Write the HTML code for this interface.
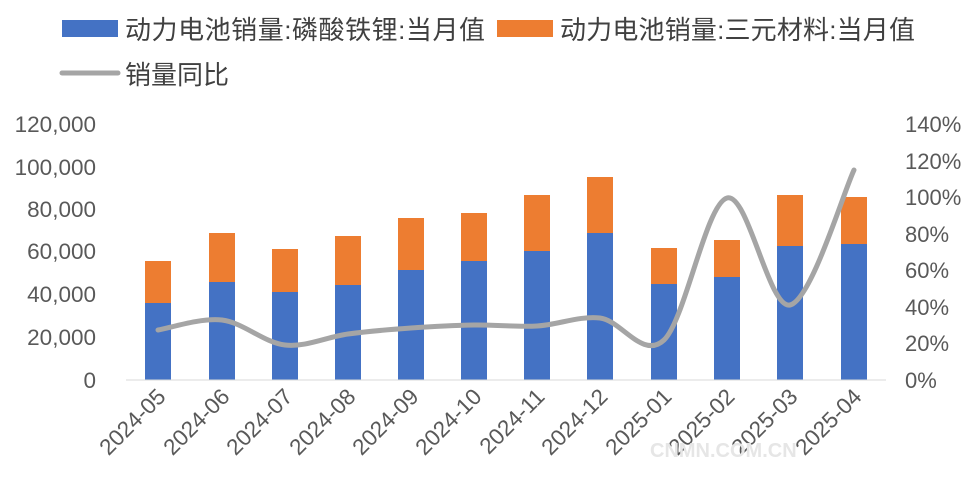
<!DOCTYPE html>
<html><head><meta charset="utf-8"><style>
body{margin:0;background:#fff;}
svg{display:block;font-family:"Liberation Sans","Noto Sans CJK SC",sans-serif;}
</style></head><body>
<svg id="c" width="979" height="500" viewBox="0 0 979 500">
<rect width="979" height="500" fill="#fff"/>
<rect x="62" y="20" width="56" height="17" fill="#4472c4"/>
<text x="125" y="39" font-size="26" fill="#404040" textLength="360">动力电池销量:磷酸铁锂:当月值</text>
<rect x="497" y="20" width="56" height="17" fill="#ed7d31"/>
<text x="560" y="39" font-size="26" fill="#404040" textLength="355">动力电池销量:三元材料:当月值</text>
<line x1="62" y1="73" x2="118" y2="73" stroke="#a5a5a5" stroke-width="5" stroke-linecap="round"/>
<text x="125" y="84" font-size="26" fill="#404040">销量同比</text>
<g font-size="22.5" fill="#595959" text-anchor="end">
<text x="96" y="132">120,000</text><text x="96" y="175">100,000</text><text x="96" y="217">80,000</text>
<text x="96" y="259">60,000</text><text x="96" y="302">40,000</text><text x="96" y="345">20,000</text><text x="96" y="388">0</text>
</g>
<g font-size="22" fill="#595959" text-anchor="start">
<text x="905" y="132">140%</text><text x="905" y="169">120%</text><text x="905" y="205">100%</text>
<text x="905" y="242">80%</text><text x="905" y="278">60%</text><text x="905" y="315">40%</text>
<text x="905" y="351">20%</text><text x="905" y="388">0%</text>
</g>
<g id="bars"></g>
<line x1="126" y1="380" x2="886" y2="380" stroke="#d9d9d9" stroke-width="1"/>
<path id="ln" fill="none" stroke="#a5a5a5" stroke-width="5" stroke-linejoin="round" stroke-linecap="round"/>
<g id="xl" font-size="22.5" fill="#595959"></g>
<text x="650" y="457" font-size="20" fill="#e6e6e6" font-weight="bold">CNMN.COM.CN</text>
</svg>
<script>
var xs=[158,222,285,348,411,474,537,600,664,727,790,854];
var tot=[261,233,249,236,218,213,195,177,248,240,195,197];
var blu=[303,282,292,285,270,261,251,233,284,277,246,244];
var ly=[330,320,345,334,328,325,326,318,340,198,305,170];
var labs=["2024-05","2024-06","2024-07","2024-08","2024-09","2024-10","2024-11","2024-12","2025-01","2025-02","2025-03","2025-04"];
var g="";
for(var i=0;i<12;i++){
g+='<rect x="'+(xs[i]-13)+'" y="'+tot[i]+'" width="26" height="'+(blu[i]-tot[i])+'" fill="#ed7d31"/>';
g+='<rect x="'+(xs[i]-13)+'" y="'+blu[i]+'" width="26" height="'+(380-blu[i])+'" fill="#4472c4"/>';
}
document.getElementById("bars").innerHTML=g;
var d="M"+xs[0]+","+ly[0];
for(var i=0;i<11;i++){
var p0=i>0?i-1:i,p3=i<10?i+2:i+1,t=1/6;
var c1x=xs[i]+(xs[i+1]-xs[p0])*t,c1y=ly[i]+(ly[i+1]-ly[p0])*t;
var c2x=xs[i+1]-(xs[p3]-xs[i])*t,c2y=ly[i+1]-(ly[p3]-ly[i])*t;
d+=" C"+c1x+","+c1y+" "+c2x+","+c2y+" "+xs[i+1]+","+ly[i+1];
}
document.getElementById("ln").setAttribute("d",d);
var h="";
for(var i=0;i<12;i++){
h+='<text text-anchor="end" transform="translate('+(xs[i]+9)+',398) rotate(-45)">'+labs[i]+'</text>';
}
document.getElementById("xl").innerHTML=h;
</script>
</body></html>
